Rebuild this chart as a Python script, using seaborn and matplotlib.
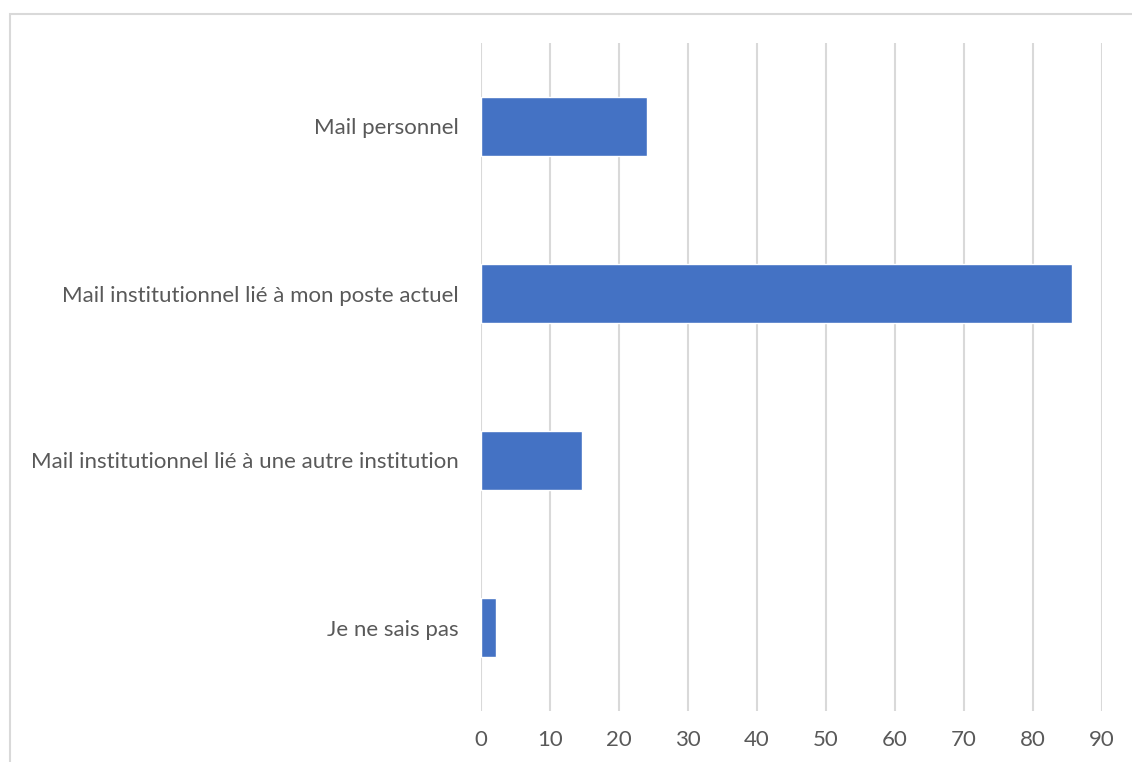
import pandas as pd
import matplotlib.pyplot as plt
import seaborn as sns
from matplotlib.patches import Rectangle

# Valeurs
categories = ["Mail personnel",
              "Mail institutionnel lié à mon poste actuel",
              "Mail institutionnel lié à une autre institution",
              "Je ne sais pas"]
values = [24.0, 85.6, 14.7, 2.2]
xticks = [0, 10, 20, 30, 40, 50, 60, 70, 80, 90]

df = pd.DataFrame({"categorie": categories, "valeur": values})

sns.set_style("white")
plt.rcParams['font.family'] = ['Lato', 'DejaVu Sans']

fig = plt.figure(figsize=(11.32, 7.62), dpi=100)
ax = fig.add_axes([481 / 1132, 51 / 762, 621 / 1132, 668 / 762])

sns.barplot(data=df, x="valeur", y="categorie", orient="h", color="#4472C4",
            width=0.35, saturation=1, ax=ax, zorder=3)

ax.set_xlim(0, 90)
ax.set_ylim(3.5, -0.5)
ax.set_xticks(xticks)
ax.set_xticklabels([str(t) for t in xticks])
ax.xaxis.grid(True, color="#d9d9d9", linewidth=1.5)
ax.set_axisbelow(True)
ax.set_xlabel("")
ax.set_ylabel("")
for s in ax.spines.values():
    s.set_visible(False)
ax.tick_params(axis="both", length=0, labelsize=16, colors="#595959")
ax.tick_params(axis="x", pad=14)
ax.tick_params(axis="y", pad=16)

# cadre du graphique (coupé à droite et en bas)
fig.patches.append(Rectangle((10 / 1132, -0.2), 1.2, 0.2 + (762 - 14) / 762,
                             transform=fig.transFigure, fill=False,
                             edgecolor="#d9d9d9", linewidth=1.5))

fig.savefig("out.png", dpi=100)
